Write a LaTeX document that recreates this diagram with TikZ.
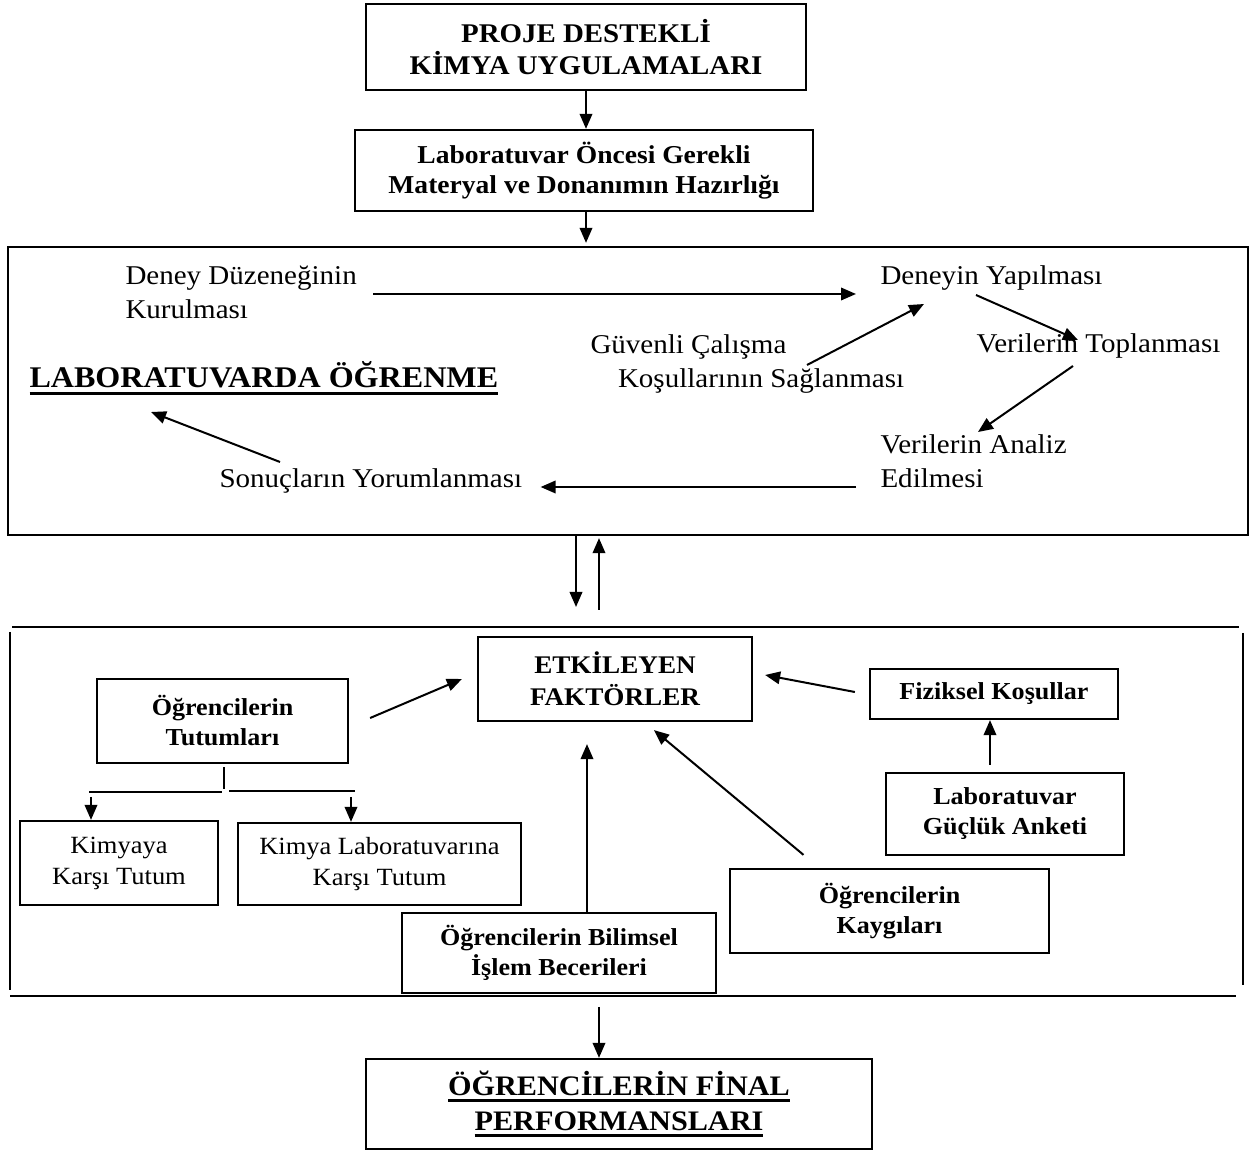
\documentclass[tikz,border=0pt]{standalone}
\usepackage{fontspec}
\setmainfont{Liberation Serif}[FakeStretch=1.07]
\usetikzlibrary{arrows.meta,calc}
\newcommand{\labfont}{\fontsize{10.85}{13.6}\selectfont}
\newcommand{\topfont}{\fontsize{10.8}{12.8}\selectfont}
\newcommand{\etkfont}{\fontsize{10.15}{12.6}\selectfont}
\newcommand{\prepfont}{\fontsize{10.3}{12}\selectfont}
\newcommand{\bxfont}{\fontsize{9.75}{12}\selectfont}
\newcommand{\rgfont}{\fontsize{9.9}{12.4}\selectfont}
\newcommand{\bigfont}{\fontsize{12}{14}\selectfont}
\newcommand{\finfont}{\fontsize{11.3}{14}\selectfont}
\newcommand{\thickul}[1]{\setbox0=\hbox{#1}\rlap{\rule[-2.8pt]{\wd0}{1.2pt}}\box0}
\begin{document}
\begin{tikzpicture}[x=0.4pt,y=-0.4pt,
  box/.style={draw,line width=0.9pt,inner sep=0pt,align=center},
  arr/.style={-{Triangle[length=6pt,width=5pt]},line width=0.8pt},
  txt/.style={inner sep=0pt,anchor=base west,align=left,font=\labfont}]
\useasboundingbox (0,0) rectangle (1255,1151);
\node[box,minimum width=176pt,minimum height=34.4pt,font=\bfseries\topfont] (proj) at (586,47) {PROJE DESTEKLİ\\KİMYA UYGULAMALARI};
\node[box,minimum width=183.2pt,minimum height=32.4pt,font=\bfseries\prepfont] (prep) at (584,170.5) {Laboratuvar Öncesi Gerekli\\Materyal ve Donanımın Hazırlığı};
\node[box,minimum width=496pt,minimum height=115.2pt] (lab) at (628,391) {};
\draw[arr] (proj.south) -- (proj.south |- prep.north);
\draw[arr] (proj.south |- prep.south) -- ($(proj.south |- lab.north)+(0,-3)$);
\node[txt] (dzn) at (125,319) {Deney Düzeneğinin\\Kurulması};
\node[txt] (dyp) at (880,285) {Deneyin Yapılması};
\node[txt] (gvn) at (590,388) {Güvenli Çalışma\\\hspace*{11pt}Koşullarının Sağlanması};
\node[txt] (vtp) at (976,353) {Verilerin Toplanması};
\node[txt] (van) at (880,488) {Verilerin Analiz\\Edilmesi};
\node[txt] (syr) at (219,488) {Sonuçların Yorumlanması};
\node[txt,font=\bfseries\bigfont] (lo) at (29,388) {\thickul{LABORATUVARDA ÖĞRENME}};
\draw[arr] ($(dzn.base east)+(16,-25)$) -- ($(dyp.base west)+(-24,9)$);
\draw[arr] ($(gvn.base west)+(217,-23)$) -- ($(dyp.base west)+(44,19)$);
\draw[arr] ($(dyp.base west)+(96,10)$) -- ($(vtp.base west)+(102,-13)$);
\draw[arr] ($(vtp.base west)+(97,13)$) -- ($(van.base west)+(98,-56)$);
\draw[arr] ($(van.base west)+(-24,-1)$) -- ($(syr.base east)+(18,-1)$);
\draw[arr] ($(syr.base west)+(61,-26)$) -- ($(lo.base west)+(122,24)$);
\coordinate (dn) at (576,607);
\coordinate (up) at (599,610);
\draw[arr] (lab.south -| dn) -- (dn);
\draw[arr] (up) -- ($(up |- lab.south)+(0,2)$);
\draw[line width=0.9pt] (12,627) -- (1239,627) (10,632) -- (10,990) (10,996) -- (1236,996) (1243,633) -- (1243,985);
\node[box,minimum width=109.6pt,minimum height=33.6pt,font=\bfseries\etkfont] (etk) at (615,679) {ETKİLEYEN\\FAKTÖRLER};
\node[box,minimum width=100.4pt,minimum height=33.6pt,font=\bfseries\bxfont] (tut) at (222.5,721) {Öğrencilerin\\Tutumları};
\node[box,minimum width=79.2pt,minimum height=33.6pt,font=\rgfont] (kim) at (119,863) {Kimyaya\\Karşı Tutum};
\node[box,minimum width=113.2pt,minimum height=32.8pt,font=\rgfont] (klab) at (379.5,864) {Kimya Laboratuvarına\\Karşı Tutum};
\node[box,minimum width=125.6pt,minimum height=32pt,font=\bfseries\bxfont] (bil) at (559,953) {Öğrencilerin Bilimsel\\İşlem Becerileri};
\node[box,minimum width=127.6pt,minimum height=33.6pt,font=\bfseries\bxfont] (kay) at (889.5,911) {Öğrencilerin\\Kaygıları};
\node[box,minimum width=99.2pt,minimum height=20pt,font=\bfseries\bxfont] (fiz) at (994,694) {Fiziksel Koşullar};
\node[box,minimum width=95.2pt,minimum height=32.8pt,font=\bfseries\bxfont] (ank) at (1005,814) {Laboratuvar\\Güçlük Anketi};
\node[box,minimum width=202.4pt,minimum height=36pt,font=\bfseries\finfont] (fin) at (619,1104) {\thickul{ÖĞRENCİLERİN FİNAL}\\\thickul{PERFORMANSLARI}};
\draw[arr] ($(tut.east)+(21,-3)$) -- ($(etk.west)+(-15,0)$);
\draw[arr] ($(fiz.west)+(-14,-2)$) -- ($(etk.east)+(12,-4)$);
\draw[arr] ($(ank.north)+(-15,-7)$) -- ($(fiz.south)+(-4,0)$);
\draw[arr] ($(kay.north)+(-86,-13)$) -- ($(etk.south)+(39,8)$);
\draw[arr] ($(bil.north)+(28,0)$) -- ($(etk.south)+(-28,22)$);
\draw[line width=0.8pt] ($(tut.south)+(1.5,3)$) -- ++(0,22);
\draw[line width=0.8pt] (89,792) -- (222,792) (229,791) -- (355,791);
\coordinate (kl) at (91,797);
\coordinate (kr) at (351,797);
\draw[arr] (kl) -- (kl |- kim.north);
\draw[arr] (kr) -- (kr |- klab.north);
\coordinate (fo) at (599,1007);
\draw[arr] (fo) -- (fo |- fin.north);
\end{tikzpicture}
\end{document}
